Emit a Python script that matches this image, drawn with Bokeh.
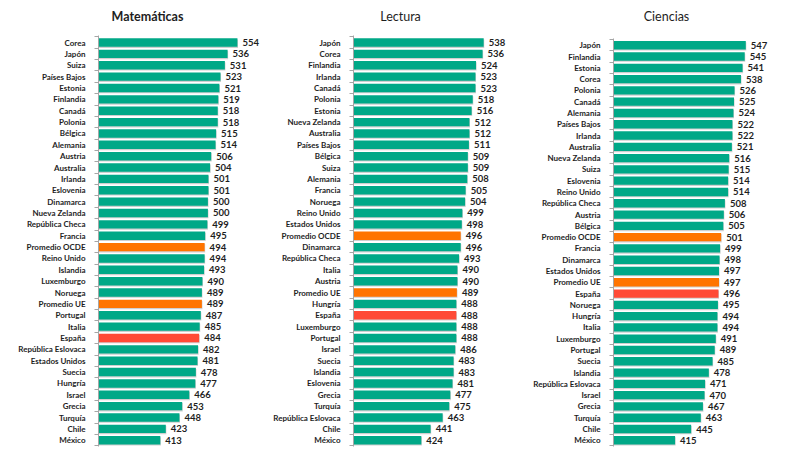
from bokeh.plotting import figure
from bokeh.layouts import row
from bokeh.models import Range1d, FixedTicker, Label
from bokeh.core.properties import value
from bokeh.embed import file_html
from bokeh.resources import INLINE

mat_countries = ["Corea", "Japón", "Suiza", "Países Bajos", "Estonia", "Finlandia", "Canadá",
                 "Polonia", "Bélgica", "Alemania", "Austria", "Australia", "Irlanda", "Eslovenia",
                 "Dinamarca", "Nueva Zelanda", "República Checa", "Francia", "Promedio OCDE",
                 "Reino Unido", "Islandia", "Luxemburgo", "Noruega", "Promedio UE", "Portugal",
                 "Italia", "España", "República Eslovaca", "Estados Unidos", "Suecia", "Hungría",
                 "Israel", "Grecia", "Turquía", "Chile", "México"]
mat_values = [554, 536, 531, 523, 521, 519, 518, 518, 515, 514, 506, 504, 501, 501, 500, 500,
              499, 495, 494, 494, 493, 490, 489, 489, 487, 485, 484, 482, 481, 478, 477, 466,
              453, 448, 423, 413]

lec_countries = ["Japón", "Corea", "Finlandia", "Irlanda", "Canadá", "Polonia", "Estonia",
                 "Nueva Zelanda", "Australia", "Países Bajos", "Bélgica", "Suiza", "Alemania",
                 "Francia", "Noruega", "Reino Unido", "Estados Unidos", "Promedio OCDE",
                 "Dinamarca", "República Checa", "Italia", "Austria", "Promedio UE", "Hungría",
                 "España", "Luxemburgo", "Portugal", "Israel", "Suecia", "Islandia", "Eslovenia",
                 "Grecia", "Turquía", "República Eslovaca", "Chile", "México"]
lec_values = [538, 536, 524, 523, 523, 518, 516, 512, 512, 511, 509, 509, 508, 505, 504, 499,
              498, 496, 496, 493, 490, 490, 489, 488, 488, 488, 488, 486, 483, 483, 481, 477,
              475, 463, 441, 424]

cie_countries = ["Japón", "Finlandia", "Estonia", "Corea", "Polonia", "Canadá", "Alemania",
                 "Países Bajos", "Irlanda", "Australia", "Nueva Zelanda", "Suiza", "Eslovenia",
                 "Reino Unido", "República Checa", "Austria", "Bélgica", "Promedio OCDE",
                 "Francia", "Dinamarca", "Estados Unidos", "Promedio UE", "España", "Noruega",
                 "Hungría", "Italia", "Luxemburgo", "Portugal", "Suecia", "Islandia",
                 "República Eslovaca", "Israel", "Grecia", "Turquía", "Chile", "México"]
cie_values = [547, 545, 541, 538, 526, 525, 524, 522, 522, 521, 516, 515, 514, 514, 508, 506,
              505, 501, 499, 498, 497, 497, 496, 495, 494, 494, 491, 489, 485, 478, 471, 470,
              467, 463, 445, 415]

titles = ["Matemáticas", "Lectura", "Ciencias"]

GREEN = "#00A887"
ORANGE = "#FF7400"
RED = "#FF4A36"
SHADOW = "#cfcfcf"
TEXT = "#1e1e1e"
AXIS = "#a6a6a6"
FONT = "Lato"


def colour(c):
    if c.startswith("Promedio"):
        return ORANGE
    if c == "España":
        return RED
    return GREEN


def panel(title, countries, values, width, left, top, title_x, title_style):
    n = len(countries)
    idx = list(range(n))
    height = 450
    bottom = 4
    frame_h = height - bottom
    pitch = 11.36
    scale = 0.547
    frame_w = width - left
    lo = n - 1 + 0.55
    hi = -0.62
    p = figure(width=width, height=height,
               x_range=Range1d(300, 300 + frame_w / scale),
               y_range=Range1d(lo, hi - top / pitch),
               output_backend="svg", toolbar_location=None,
               min_border_left=left, min_border_right=0,
               min_border_top=0, min_border_bottom=bottom)
    p.outline_line_color = None
    p.grid.visible = False
    p.xaxis.visible = False
    p.background_fill_color = "white"

    p.hbar(y=[i + 0.1 for i in idx], left=300, right=[v + 1.0 for v in values],
           height=0.74, fill_color=SHADOW, line_color=None)
    p.hbar(y=idx, left=300, right=values, height=0.74,
           fill_color=[colour(c) for c in countries], line_color=None)
    p.text(x=values, y=idx, text=[str(v) for v in values], x_offset=5,
           text_baseline="middle", text_align="left",
           text_font=value(FONT), text_font_size="9.5px", text_font_style="bold",
           text_color=TEXT)

    ax = p.yaxis[0]
    ax.bounds = (hi, lo)
    ax.ticker = FixedTicker(ticks=idx, minor_ticks=[i - 0.5 for i in range(n + 1)])
    ax.major_label_overrides = {i: c for i, c in enumerate(countries)}
    ax.major_tick_line_color = None
    ax.major_tick_out = 0
    ax.major_tick_in = 0
    ax.minor_tick_out = 4
    ax.minor_tick_in = 0
    ax.minor_tick_line_color = AXIS
    ax.axis_line_color = AXIS
    ax.major_label_standoff = 9
    ax.major_label_text_font = FONT
    ax.major_label_text_font_size = "8px"
    ax.major_label_text_font_style = "bold"
    ax.major_label_text_color = TEXT

    p.add_layout(Label(x=title_x, y=frame_h - 16, x_units="screen", y_units="screen",
                       text=title, text_align="center", text_baseline="middle",
                       text_font=FONT, text_font_size="12.5px", text_font_style=title_style,
                       text_color=TEXT))
    return p


p1 = panel(titles[0], mat_countries, mat_values, 265, 98, 35, 49, "bold")
p2 = panel(titles[1], lec_countries, lec_values, 265, 88, 35, 47, "normal")
p3 = panel(titles[2], cie_countries, cie_values, 270, 79, 38, 53, "normal")

layout = row(p1, p2, p3, spacing=0)
open("out.html", "w").write(file_html(layout, INLINE))
